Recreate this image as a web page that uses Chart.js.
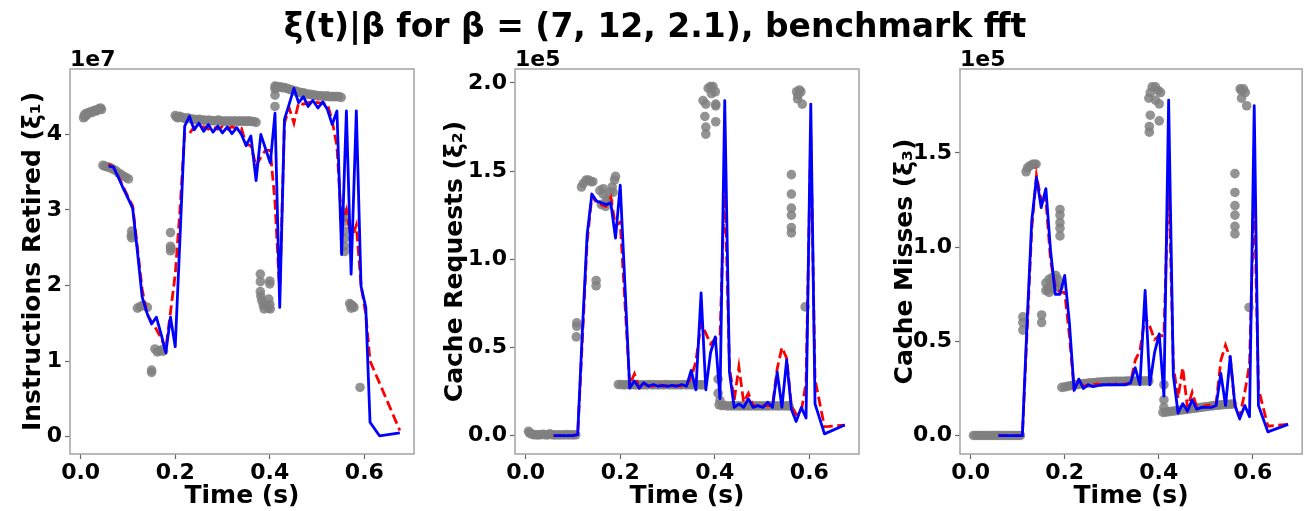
<!DOCTYPE html>
<html>
<head>
<meta charset="utf-8">
<script src="https://cdn.jsdelivr.net/npm/chart.js@4.4.1/dist/chart.umd.min.js"></script>
<style>
  html, body { margin: 0; padding: 0; background: #ffffff; }
  #wrap { position: relative; width: 1307px; height: 511px; overflow: hidden; }
  #wrap canvas { position: absolute; left: 0; top: 0; }
</style>
</head>
<body>
<div id="wrap">
  <canvas id="c1" width="1307" height="511"></canvas>
  <canvas id="c2" width="1307" height="511"></canvas>
  <canvas id="c3" width="1307" height="511"></canvas>
</div>
<script>
// ---- data -------------------------------------------------------------
const figureTitle = 'ξ(t)|β for β = (7, 12, 2.1), benchmark fft';
const xTickValues = [0.0, 0.2, 0.4, 0.6];
const yTicksInstr = [0, 1, 2, 3, 4];
const yTicksCache = [0.0, 0.5, 1.0, 1.5, 2.0];
const yTicksMiss = [0.0, 0.5, 1.0, 1.5];

// time stamps (s) of the reconstructed signal
const modelTime = [0.059, 0.069, 0.079, 0.089, 0.099, 0.110, 0.120, 0.130, 0.140, 0.150,
  0.160, 0.170, 0.180, 0.190, 0.200, 0.210, 0.220, 0.230, 0.240, 0.250,
  0.260, 0.270, 0.280, 0.290, 0.300, 0.310, 0.320, 0.330, 0.340, 0.350,
  0.360, 0.371, 0.381, 0.391, 0.401, 0.411, 0.421, 0.431, 0.441, 0.451,
  0.461, 0.471, 0.481, 0.491, 0.502, 0.512, 0.522, 0.532, 0.542, 0.552,
  0.562, 0.572, 0.583, 0.593, 0.603, 0.612, 0.632, 0.675];

// instructions retired (x1e7)
const instrSample = [3.58, 3.57, 3.44, 3.30, 3.17, 3.02, 2.45, 1.85, 1.64, 1.49,
  1.58, 1.36, 1.11, 1.58, 1.19, 2.62, 4.11, 4.24, 4.06, 4.15,
  4.04, 4.13, 4.03, 4.11, 4.02, 4.10, 4.01, 4.09, 4.00, 3.85,
  3.98, 3.39, 4.00, 3.81, 3.62, 4.28, 1.71, 4.20, 4.40, 4.61,
  4.42, 4.50, 4.37, 4.45, 4.35, 4.43, 4.33, 4.13, 4.31, 2.41,
  4.31, 2.15, 4.31, 1.99, 1.71, 0.19, 0.01, 0.05];
const instrMean = [3.61, 3.57, 3.45, 3.32, 3.19, 3.05, 2.50, 1.95, 1.62, 1.52,
  1.42, 1.30, 1.16, 1.65, 2.15, 3.00, 4.02, 4.01, 4.10, 4.08,
  4.10, 4.07, 4.10, 4.07, 4.10, 4.07, 4.10, 4.08, 4.08, 3.87,
  3.85, 3.58, 3.70, 3.79, 3.79, 3.10, 1.90, 4.15, 4.35, 4.15,
  4.42, 4.40, 4.42, 4.43, 4.42, 4.41, 4.40, 4.18, 3.84, 2.80,
  3.00, 2.60, 2.80, 2.00, 1.62, 1.00, 0.71, 0.08];
const instrMeasured = [
  [0.006,4.22],[0.008,4.26],[0.010,4.24],[0.012,4.28],[0.015,4.27],[0.018,4.29],[0.021,4.30],[0.024,4.29],
  [0.027,4.31],[0.030,4.32],[0.033,4.31],[0.036,4.33],[0.039,4.34],[0.042,4.35],[0.044,4.33],
  [0.047,3.59],[0.051,3.58],[0.056,3.57],[0.062,3.56],[0.068,3.54],[0.074,3.52],[0.080,3.49],[0.085,3.47],
  [0.090,3.45],[0.096,3.43],[0.101,3.41],
  [0.107,2.66],[0.108,2.72],[0.108,2.63],
  [0.120,1.70],[0.126,1.72],[0.132,1.74],[0.141,1.71],
  [0.150,0.85],[0.150,0.88],
  [0.157,1.16],[0.162,1.12],[0.167,1.13],[0.172,1.15],[0.175,1.13],
  [0.190,2.70],[0.190,2.52],[0.190,2.46],[0.191,2.49],
  [0.200,4.25],[0.203,4.23],[0.206,4.22],[0.209,4.24],[0.213,4.23],[0.217,4.22],[0.221,4.21],[0.226,4.22],
  [0.231,4.21],[0.236,4.20],[0.241,4.20],[0.246,4.19],[0.251,4.20],[0.256,4.19],[0.261,4.19],[0.266,4.18],
  [0.271,4.19],[0.276,4.18],[0.281,4.18],[0.286,4.18],[0.291,4.19],[0.296,4.18],[0.301,4.17],[0.306,4.18],
  [0.311,4.17],[0.316,4.18],[0.321,4.17],[0.326,4.18],[0.331,4.17],[0.336,4.18],[0.341,4.17],[0.346,4.18],
  [0.351,4.17],[0.356,4.18],[0.361,4.17],[0.366,4.17],[0.371,4.16],
  [0.380,2.15],[0.380,2.05],[0.380,1.92],[0.381,1.86],[0.383,1.80],[0.386,1.74],[0.388,1.69],
  [0.397,1.70],[0.398,1.82],[0.400,2.06],[0.400,2.02],[0.400,1.75],[0.401,1.69],
  [0.411,4.64],[0.411,4.60],[0.411,4.52],[0.411,4.37],[0.414,4.63],[0.418,4.63],[0.422,4.63],[0.426,4.62],
  [0.431,4.62],[0.436,4.61],[0.441,4.60],[0.446,4.59],[0.451,4.58],[0.456,4.57],[0.461,4.56],[0.466,4.55],
  [0.471,4.55],[0.476,4.54],[0.481,4.53],[0.486,4.53],[0.491,4.52],[0.496,4.52],[0.501,4.51],[0.506,4.51],
  [0.511,4.51],[0.516,4.50],[0.521,4.51],[0.526,4.50],[0.531,4.50],[0.536,4.50],[0.541,4.50],[0.546,4.50],
  [0.551,4.49],
  [0.556,2.90],[0.558,2.97],[0.558,2.85],[0.558,2.72],[0.558,2.62],[0.558,2.52],[0.558,2.45],
  [0.569,1.76],[0.572,1.74],[0.572,1.70],[0.575,1.73],[0.578,1.71],
  [0.591,0.65]
];

// cache requests (x1e5)
const reqSample = [0.0, 0.0, 0.0, 0.0, 0.0, 0.006, 0.60, 1.14, 1.37, 1.33,
  1.32, 1.31, 1.32, 1.12, 1.42, 0.85, 0.27, 0.31, 0.27, 0.30,
  0.28, 0.29, 0.28, 0.285, 0.28, 0.285, 0.28, 0.29, 0.28, 0.37,
  0.26, 0.81, 0.26, 0.47, 0.56, 0.21, 1.90, 0.36, 0.16, 0.18,
  0.16, 0.21, 0.16, 0.17, 0.16, 0.19, 0.16, 0.36, 0.16, 0.43,
  0.15, 0.08, 0.16, 0.10, 1.88, 0.18, 0.01, 0.06];
const reqMean = [0.0, 0.0, 0.0, 0.0, 0.0, 0.006, 0.55, 1.10, 1.36, 1.32,
  1.31, 1.30, 1.35, 1.19, 1.21, 0.75, 0.29, 0.35, 0.27, 0.29,
  0.285, 0.28, 0.29, 0.28, 0.285, 0.28, 0.285, 0.28, 0.285, 0.33,
  0.42, 0.64, 0.58, 0.52, 0.55, 0.56, 1.45, 0.39, 0.20, 0.39,
  0.19, 0.24, 0.17, 0.17, 0.17, 0.17, 0.17, 0.38, 0.50, 0.44,
  0.17, 0.12, 0.14, 0.30, 1.70, 0.32, 0.05, 0.06];
const reqMeasured = [
  [0.006,0.025],[0.008,0.015],[0.012,0.010],[0.016,0.006],[0.021,0.005],[0.026,0.004],[0.031,0.005],[0.036,0.008],
  [0.041,0.005],[0.046,0.004],[0.051,0.010],[0.056,0.005],[0.061,0.004],[0.066,0.005],[0.071,0.004],[0.076,0.005],
  [0.081,0.004],[0.086,0.006],[0.091,0.004],[0.096,0.005],[0.101,0.004],[0.106,0.005],
  [0.108,0.64],[0.108,0.62],[0.107,0.56],
  [0.118,1.41],[0.122,1.43],[0.128,1.45],[0.133,1.45],[0.138,1.44],[0.142,1.44],
  [0.149,0.88],[0.149,0.85],
  [0.157,1.39],[0.160,1.31],[0.164,1.37],[0.164,1.40],[0.169,1.30],[0.171,1.34],[0.176,1.33],[0.178,1.38],
  [0.183,1.41],[0.185,1.38],[0.188,1.45],[0.190,1.47],
  [0.196,0.290],[0.202,0.290],[0.208,0.288],[0.214,0.290],[0.220,0.288],[0.226,0.290],[0.232,0.288],[0.238,0.290],
  [0.244,0.288],[0.250,0.289],[0.256,0.288],[0.262,0.290],[0.268,0.288],[0.274,0.289],[0.280,0.288],[0.286,0.289],
  [0.292,0.288],[0.298,0.290],[0.304,0.288],[0.310,0.289],[0.316,0.288],[0.322,0.289],[0.328,0.288],[0.334,0.290],
  [0.340,0.288],[0.346,0.289],[0.352,0.288],[0.358,0.289],[0.364,0.288],[0.370,0.289],[0.374,0.288],
  [0.375,1.90],[0.379,1.81],[0.381,1.88],[0.381,1.75],[0.381,1.71],[0.386,1.97],[0.391,1.98],[0.393,1.94],
  [0.396,1.98],[0.401,1.95],[0.402,1.88],[0.402,1.87],[0.402,1.78],
  [0.407,0.32],[0.407,0.24],[0.411,0.20],
  [0.409,0.175],[0.415,0.170],[0.421,0.172],[0.427,0.168],[0.433,0.170],[0.439,0.168],[0.445,0.170],[0.451,0.168],
  [0.457,0.170],[0.463,0.168],[0.469,0.170],[0.475,0.168],[0.481,0.170],[0.487,0.168],[0.493,0.170],[0.499,0.168],
  [0.505,0.170],[0.511,0.168],[0.517,0.170],[0.523,0.168],[0.529,0.170],[0.535,0.168],[0.541,0.170],[0.547,0.168],
  [0.553,0.170],[0.557,0.168],
  [0.562,1.48],[0.562,1.37],[0.562,1.29],[0.562,1.25],[0.562,1.18],[0.562,1.15],
  [0.573,1.95],[0.575,1.91],[0.576,1.93],[0.579,1.96],[0.582,1.95],[0.585,1.88],
  [0.591,0.73]
];

// cache misses (x1e5)
const missSample = [0, 0, 0, 0, 0, 0, 0.60, 1.14, 1.37, 1.21,
  1.31, 0.98, 0.75, 0.75, 0.85, 0.60, 0.24, 0.30, 0.25, 0.27,
  0.26, 0.265, 0.27, 0.27, 0.27, 0.27, 0.27, 0.27, 0.28, 0.36,
  0.27, 0.77, 0.27, 0.44, 0.54, 0.21, 1.78, 0.32, 0.12, 0.17,
  0.13, 0.19, 0.14, 0.15, 0.15, 0.15, 0.16, 0.33, 0.16, 0.42,
  0.16, 0.09, 0.16, 0.10, 1.75, 0.16, 0.02, 0.06];
const missMean = [0, 0, 0, 0, 0, 0, 0.55, 1.10, 1.38, 1.25,
  1.25, 0.93, 0.79, 0.76, 0.76, 0.53, 0.25, 0.29, 0.26, 0.27,
  0.27, 0.275, 0.27, 0.275, 0.27, 0.275, 0.27, 0.275, 0.28, 0.40,
  0.45, 0.63, 0.58, 0.51, 0.53, 0.53, 1.40, 0.37, 0.20, 0.36,
  0.15, 0.23, 0.15, 0.15, 0.16, 0.16, 0.17, 0.40, 0.48, 0.41,
  0.16, 0.10, 0.23, 0.38, 1.30, 0.25, 0.05, 0.06];
const missMeasured = [
  [0.006,0.001],[0.011,0.001],[0.016,0.001],[0.021,0.001],[0.026,0.001],[0.031,0.001],[0.036,0.001],[0.041,0.001],
  [0.046,0.001],[0.051,0.001],[0.056,0.001],[0.061,0.001],[0.066,0.001],[0.071,0.001],[0.076,0.001],[0.081,0.001],
  [0.086,0.001],[0.091,0.001],[0.096,0.001],[0.101,0.001],[0.106,0.001],
  [0.111,0.63],[0.111,0.60],[0.111,0.56],
  [0.118,1.40],[0.121,1.42],[0.125,1.43],[0.132,1.44],[0.136,1.44],[0.139,1.44],
  [0.151,0.64],[0.151,0.60],
  [0.160,0.81],[0.160,0.77],[0.164,0.78],[0.167,0.83],[0.167,0.76],[0.172,0.80],[0.174,0.84],[0.174,0.78],
  [0.178,0.82],[0.181,0.85],[0.181,0.80],[0.185,0.83],[0.188,0.79],
  [0.190,1.20],[0.190,1.17],[0.190,1.13],[0.190,1.10],[0.190,1.06],
  [0.194,0.256],[0.200,0.258],[0.206,0.262],[0.212,0.265],[0.218,0.268],[0.224,0.270],[0.230,0.272],[0.236,0.275],
  [0.242,0.276],[0.248,0.278],[0.254,0.280],[0.260,0.281],[0.266,0.282],[0.272,0.284],[0.278,0.285],[0.284,0.286],
  [0.290,0.287],[0.296,0.287],[0.302,0.288],[0.308,0.288],[0.314,0.289],[0.320,0.289],[0.326,0.289],[0.332,0.290],
  [0.338,0.290],[0.344,0.290],[0.350,0.290],[0.356,0.290],[0.362,0.291],[0.368,0.290],[0.374,0.291],[0.379,0.290],
  [0.379,1.79],[0.380,1.64],[0.380,1.61],[0.382,1.82],[0.382,1.70],[0.386,1.85],[0.393,1.85],[0.393,1.78],
  [0.399,1.83],[0.401,1.76],[0.401,1.67],[0.404,1.82],
  [0.411,0.27],[0.411,0.19],[0.411,0.15],
  [0.409,0.123],[0.415,0.125],[0.421,0.127],[0.427,0.129],[0.433,0.131],[0.439,0.133],[0.445,0.135],[0.451,0.137],
  [0.457,0.139],[0.463,0.141],[0.469,0.143],[0.475,0.145],[0.481,0.147],[0.487,0.149],[0.493,0.151],[0.499,0.153],
  [0.505,0.155],[0.511,0.157],[0.517,0.159],[0.523,0.161],[0.529,0.162],[0.535,0.164],[0.541,0.165],[0.547,0.166],
  [0.553,0.167],[0.557,0.168],
  [0.562,1.39],[0.562,1.29],[0.562,1.22],[0.562,1.17],[0.562,1.11],[0.562,1.07],
  [0.573,1.84],[0.576,1.83],[0.576,1.79],[0.580,1.84],[0.584,1.82],[0.587,1.75],
  [0.592,0.68]
];

// ---- drawing ----------------------------------------------------------
const FONT = "'DejaVu Sans', 'Liberation Sans', sans-serif";
Chart.defaults.font.family = FONT;

function toPoints(xs, ys) { return xs.map((x, i) => ({ x: x, y: ys[i] })); }
function pairPoints(pairs) { return pairs.map(p => ({ x: p[0], y: p[1] })); }

// axes frame, exponent label and (optionally) the figure title
const decorations = {
  id: 'decorations',
  afterDraw(chart, args, opts) {
    const { ctx, chartArea: a } = chart;
    ctx.save();
    ctx.strokeStyle = '#a8a8a8';
    ctx.lineWidth = 1.6;
    ctx.strokeRect(a.left, a.top, a.right - a.left, a.bottom - a.top);
    ctx.fillStyle = '#000';
    ctx.textAlign = 'left';
    ctx.textBaseline = 'alphabetic';
    ctx.font = 'bold 22px ' + FONT;
    ctx.fillText(opts.exponent, a.left, a.top - 3);
    if (opts.title) {
      ctx.textAlign = 'center';
      ctx.font = 'bold 33px ' + FONT;
      ctx.fillText(opts.title, 655, 37);
    }
    ctx.restore();
  }
};

function makePanel(id, p) {
  const tickFont = { family: FONT, size: 22, weight: 'bold' };
  const titleFont = { family: FONT, size: 25, weight: 'bold' };
  const grid = { display: true, drawOnChartArea: false, drawTicks: true, tickLength: 5, tickColor: '#666', tickWidth: 1.2 };
  return new Chart(document.getElementById(id), {
    type: 'line',
    data: {
      datasets: [
        { label: 'sample', data: toPoints(modelTime, p.sample), borderColor: '#0000ff', borderWidth: 2.8,
          pointRadius: 0, tension: 0, borderJoinStyle: 'round', order: 0 },
        { label: 'mean', data: toPoints(modelTime, p.mean), borderColor: '#ff0000', borderWidth: 2.8,
          borderDash: [10, 4.5], pointRadius: 0, tension: 0, order: 1 },
        { type: 'scatter', label: 'measured', data: pairPoints(p.measured), showLine: false,
          backgroundColor: 'rgba(128,128,128,0.85)', borderWidth: 0, pointRadius: 4.8, order: 2 }
      ]
    },
    options: {
      responsive: false,
      animation: false,
      devicePixelRatio: 1,
      events: [],
      layout: { padding: { left: p.padLeft, right: p.padRight, top: 69, bottom: 0 } },
      plugins: {
        legend: { display: false },
        tooltip: { enabled: false },
        decorations: { exponent: p.exponent, title: p.title || null }
      },
      scales: {
        x: {
          type: 'linear', min: -0.0226, max: 0.705,
          afterBuildTicks: s => { s.ticks = xTickValues.map(v => ({ value: v })); },
          afterFit: s => { s.height = 57; },
          ticks: { font: tickFont, color: '#000', padding: 1, maxRotation: 0,
                   callback: v => Number(v).toFixed(1) },
          grid: grid, border: { display: false },
          title: { display: true, text: 'Time (s)', font: titleFont, color: '#000', padding: { top: 0, bottom: 0 } }
        },
        y: {
          type: 'linear', min: p.yMin, max: p.yMax,
          afterBuildTicks: s => { s.ticks = p.yTicks.map(v => ({ value: v })); },
          afterFit: s => { s.width = p.axisWidth; },
          ticks: { font: tickFont, color: '#000', padding: 3,
                   callback: v => Number(v).toFixed(p.decimals) },
          grid: grid, border: { display: false },
          title: { display: true, text: p.yLabel, font: titleFont, color: '#000', padding: { top: 4, bottom: 0 } }
        }
      }
    },
    plugins: [decorations]
  });
}

makePanel('c1', {
  sample: instrSample, mean: instrMean, measured: instrMeasured,
  yMin: -0.231, yMax: 4.866, yTicks: yTicksInstr, decimals: 0,
  yLabel: 'Instructions Retired (ξ₁)', exponent: '1e7', title: figureTitle,
  padLeft: 14, axisWidth: 56, padRight: 1307 - 414
});
makePanel('c2', {
  sample: reqSample, mean: reqMean, measured: reqMeasured,
  yMin: -0.104, yMax: 2.079, yTicks: yTicksCache, decimals: 1,
  yLabel: 'Cache Requests (ξ₂)', exponent: '1e5',
  padLeft: 436, axisWidth: 79, padRight: 1307 - 859
});
makePanel('c3', {
  sample: missSample, mean: missMean, measured: missMeasured,
  yMin: -0.0973, yMax: 1.945, yTicks: yTicksMiss, decimals: 1,
  yLabel: 'Cache Misses (ξ₃)', exponent: '1e5',
  padLeft: 886, axisWidth: 74, padRight: 3
});
</script>
</body>
</html>
